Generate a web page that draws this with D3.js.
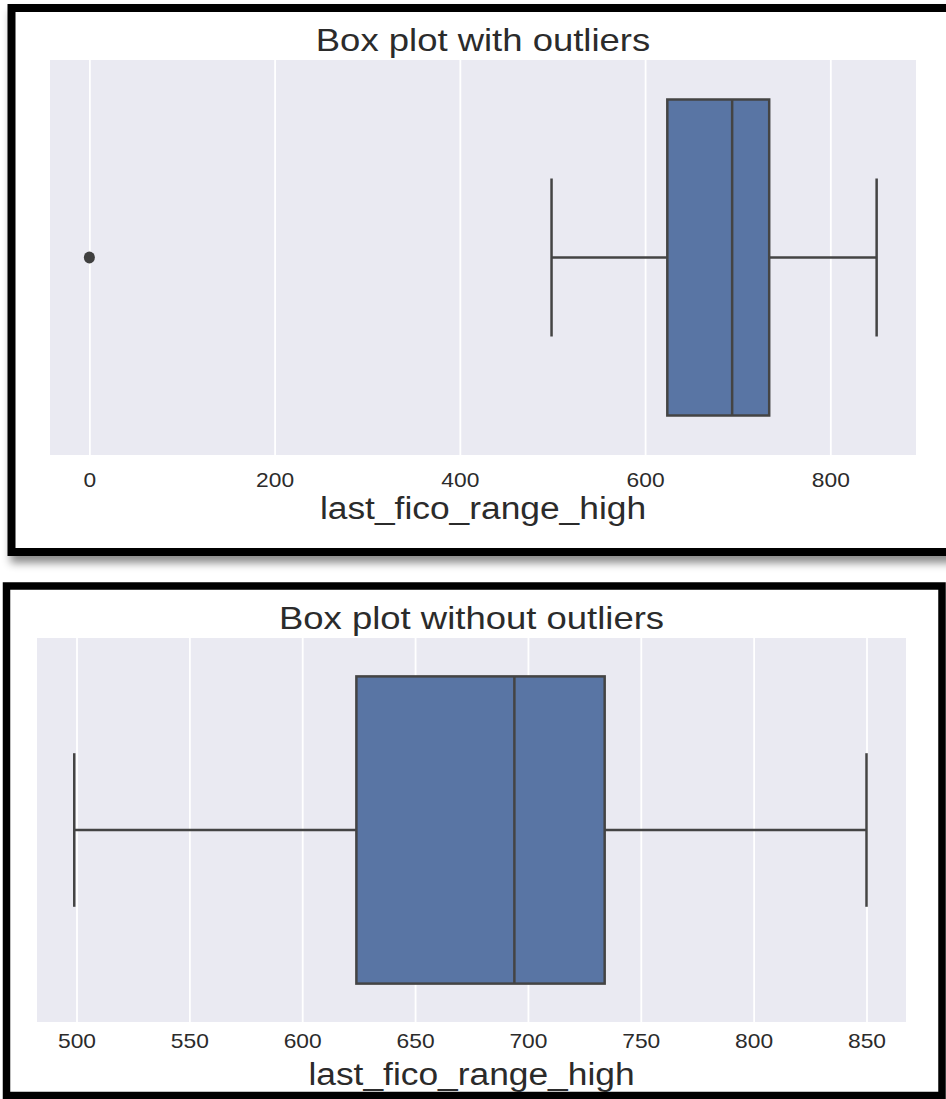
<!DOCTYPE html>
<html>
<head>
<meta charset="utf-8">
<script src="https://cdn.jsdelivr.net/npm/d3@7"></script>
<style>
  body { margin: 0; background: #fff; }
  svg { display: block; }
  text { font-family: "Liberation Sans", Arial, sans-serif; fill: #2b2b2b; }
</style>
</head>
<body>
<div id="chart"></div>
<script>
// data
var titles = ['Box plot with outliers', 'Box plot without outliers'];
var xLabel = 'last_fico_range_high';
// whisker low, q1, median, q3, whisker high
var boxStats = [499, 624, 694, 734, 850];
var outliersShown = [0];
var ticksTop = [0, 200, 400, 600, 800];
var ticksBottom = [500, 550, 600, 650, 700, 750, 800, 850];
var domainTop = [-42.5, 892.5];
var domainBottom = [482.5, 867.5];

var width = 946;
var height = 1099;
var stretch = 1.14; // picture is a bit wider than tall
var boxFill = '#5975a4';
var lineColor = '#444444';

var svg = d3.select('#chart')
	.append('svg')
	.attr('width', width)
	.attr('height', height);

var defs = svg.append('defs');
var shadow = defs.append('filter')
	.attr('id', 'shadow')
	.attr('x', '-5%').attr('y', '-5%')
	.attr('width', '115%').attr('height', '115%');
shadow.append('feDropShadow')
	.attr('dx', 3).attr('dy', 7)
	.attr('stdDeviation', 4)
	.attr('flood-color', '#000')
	.attr('flood-opacity', 0.45);

// panel frames
svg.append('rect')
	.attr('x', 11.5).attr('y', 8)
	.attr('width', 960).attr('height', 544)
	.attr('fill', '#fff')
	.attr('stroke', '#000')
	.attr('stroke-width', 8)
	.attr('filter', 'url(#shadow)');

svg.append('rect')
	.attr('x', 6.5).attr('y', 586)
	.attr('width', 935.5).attr('height', 509.5)
	.attr('fill', '#fff')
	.attr('stroke', '#000')
	.attr('stroke-width', 7.5);

var panels = [
	{title: titles[0], ticks: ticksTop, domain: domainTop, outliers: outliersShown,
		left: 50, right: 916, top: 60, bottom: 455, titleY: 51, tickY: 487, labelY: 519},
	{title: titles[1], ticks: ticksBottom, domain: domainBottom, outliers: [],
		left: 37, right: 906, top: 638, bottom: 1022, titleY: 629, tickY: 1048, labelY: 1085}
];

function stretchedText(g, cx, y, str, size){
	return g.append('text')
		.attr('text-anchor', 'middle')
		.attr('transform', 'translate(' + cx + ',' + y + ') scale(' + stretch + ',1)')
		.style('font-size', size + 'px')
		.text(str);
}

panels.forEach(function(p){
	var g = svg.append('g');
	var x = d3.scaleLinear().domain(p.domain).range([p.left, p.right]);
	var y = d3.scaleLinear().domain([-0.5, 0.5]).range([p.top, p.bottom]);
	var cx = (p.left + p.right) / 2;

	g.append('rect')
		.attr('x', p.left).attr('y', p.top)
		.attr('width', p.right - p.left)
		.attr('height', p.bottom - p.top)
		.attr('fill', '#eaeaf2');

	// grid
	var grid = g.append('g')
		.attr('transform', 'translate(0,' + p.bottom + ')')
		.call(d3.axisBottom(x)
			.tickValues(p.ticks)
			.tickSize(-(p.bottom - p.top))
			.tickFormat(''));
	grid.select('.domain').remove();
	grid.selectAll('line')
		.attr('stroke', '#fff')
		.attr('stroke-width', 1.8);

	// tick labels
	var axis = g.append('g')
		.attr('transform', 'translate(0,' + p.bottom + ')')
		.call(d3.axisBottom(x)
			.tickValues(p.ticks)
			.tickSize(0)
			.tickFormat(d3.format('d')));
	axis.select('.domain').remove();
	axis.selectAll('text')
		.attr('y', p.tickY - p.bottom)
		.attr('dy', 0)
		.attr('transform', 'scale(' + stretch + ',1)')
		.attr('x', 0)
		.style('font-size', '20px')
		.style('font-family', '"Liberation Sans", Arial, sans-serif')
		.attr('fill', '#2b2b2b');

	stretchedText(g, cx, p.titleY, p.title, 32);
	stretchedText(g, cx, p.labelY, xLabel, 31);

	// whiskers
	var mid = y(0);
	g.append('line')
		.attr('x1', x(boxStats[0])).attr('x2', x(boxStats[1]))
		.attr('y1', mid).attr('y2', mid)
		.attr('stroke', lineColor).attr('stroke-width', 2.5);
	g.append('line')
		.attr('x1', x(boxStats[3])).attr('x2', x(boxStats[4]))
		.attr('y1', mid).attr('y2', mid)
		.attr('stroke', lineColor).attr('stroke-width', 2.5);
	g.selectAll('.cap')
		.data([boxStats[0], boxStats[4]])
		.enter()
		.append('line')
		.attr('class', 'cap')
		.attr('x1', function(d){ return x(d); })
		.attr('x2', function(d){ return x(d); })
		.attr('y1', y(-0.2)).attr('y2', y(0.2))
		.attr('stroke', lineColor).attr('stroke-width', 2.5);

	// box
	g.append('rect')
		.attr('x', x(boxStats[1]))
		.attr('y', y(-0.4))
		.attr('width', x(boxStats[3]) - x(boxStats[1]))
		.attr('height', y(0.4) - y(-0.4))
		.attr('fill', boxFill)
		.attr('stroke', lineColor)
		.attr('stroke-width', 2.5);
	g.append('line')
		.attr('x1', x(boxStats[2])).attr('x2', x(boxStats[2]))
		.attr('y1', y(-0.4)).attr('y2', y(0.4))
		.attr('stroke', lineColor).attr('stroke-width', 2.5);

	// outliers
	g.selectAll('.flier')
		.data(p.outliers)
		.enter()
		.append('ellipse')
		.attr('class', 'flier')
		.attr('cx', function(d){ return x(d); })
		.attr('cy', mid)
		.attr('rx', 5.5).attr('ry', 6)
		.attr('fill', '#3f3f3f');
});
</script>
</body>
</html>
